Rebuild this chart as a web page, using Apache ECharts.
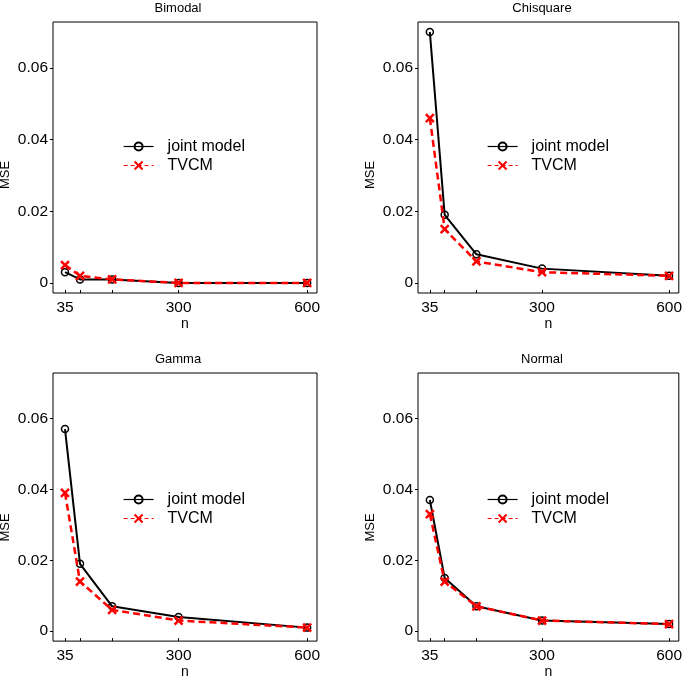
<!DOCTYPE html>
<html>
<head>
<meta charset="utf-8">
<script src="https://cdn.jsdelivr.net/npm/echarts@6/dist/echarts.min.js"></script>
<style>
html,body{margin:0;padding:0;background:#fff;}
#chart{width:685px;height:680px;}
</style>
</head>
<body>
<div id="chart"></div>
<script>
// ---- data ----
const nValues = [35, 70, 145, 300, 600];
const xTickLabels = [35, 300, 600];
const yTickValues = [0, 0.02, 0.04, 0.06];
const panelTitles = ['Bimodal', 'Chisquare', 'Gamma', 'Normal'];
const seriesNames = ['joint model', 'TVCM'];

const jointBimodal   = [0.003, 0.001, 0.001, 0.000, 0.000];
const tvcmBimodal    = [0.005, 0.002, 0.001, 0.000, 0.000];
const jointChisquare = [0.070, 0.019, 0.008, 0.004, 0.002];
const tvcmChisquare  = [0.046, 0.015, 0.006, 0.003, 0.002];
const jointGamma     = [0.057, 0.019, 0.007, 0.004, 0.001];
const tvcmGamma      = [0.039, 0.014, 0.006, 0.003, 0.001];
const jointNormal    = [0.037, 0.015, 0.007, 0.003, 0.002];
const tvcmNormal     = [0.033, 0.014, 0.007, 0.003, 0.002];

const jointData = [jointBimodal, jointChisquare, jointGamma, jointNormal];
const tvcmData  = [tvcmBimodal, tvcmChisquare, tvcmGamma, tvcmNormal];

// ---- layout ----
const FONT = "'Liberation Sans', Arial, Helvetica, sans-serif";
const gridLefts = [53, 418, 53, 418];
const gridTops = [22, 22, 373, 373];
const gridW = 264, gridH = 271;
const titleCenters = [178, 542, 178, 542];
const titleTops = [2, 2, 353, 353];
const legendLefts = [123, 487, 123, 487];
const legendTops = [138.5, 138.5, 491.5, 491.5];
const msePos = [[5.5, 175], [370, 175], [5.5, 527.5], [370, 527.5]];

const zip = (xs, ys) => xs.map((x, i) => [x, ys[i]]);

const grids = [], xAxes = [], yAxes = [], series = [], titles = [], legends = [], graphics = [];
for (let i = 0; i < 4; i++) {
  grids.push({
    left: gridLefts[i], top: gridTops[i], width: gridW, height: gridH,
    show: true, borderColor: '#000', borderWidth: 1, backgroundColor: 'transparent'
  });
  xAxes.push({
    type: 'value', gridIndex: i, min: 7, max: 623, position: 'bottom',
    name: 'n', nameLocation: 'middle', nameGap: 23,
    nameTextStyle: { fontSize: 14, color: '#000', fontFamily: FONT },
    axisLine: { show: false, onZero: false },
    splitLine: { show: false },
    axisTick: { show: true, inside: true, length: 3, customValues: nValues, lineStyle: { color: '#000' } },
    axisLabel: { customValues: xTickLabels, fontSize: 15.5, color: '#000', fontFamily: FONT, margin: 7 }
  });
  yAxes.push({
    type: 'value', gridIndex: i, min: -0.0028, max: 0.0728, position: 'left',
    axisLine: { show: false, onZero: false },
    splitLine: { show: false },
    axisTick: { show: true, inside: false, length: 3, customValues: yTickValues, lineStyle: { color: '#000' } },
    axisLabel: {
      customValues: yTickValues, fontSize: 15.5, color: '#000', fontFamily: FONT, margin: 5,
      formatter: v => (v === 0 ? '0' : v.toFixed(2))
    }
  });
  series.push({
    type: 'line', name: seriesNames[0], xAxisIndex: i, yAxisIndex: i,
    data: zip(nValues, jointData[i]),
    symbol: 'circle', symbolSize: 7,
    itemStyle: { color: 'rgba(255,255,255,0)', borderColor: '#000', borderWidth: 1.5 },
    lineStyle: { color: '#000', width: 2 },
    z: 2
  });
  series.push({
    type: 'line', name: seriesNames[1], xAxisIndex: i, yAxisIndex: i,
    data: zip(nValues, tvcmData[i]),
    symbol: 'path://M0,0L10,10M0,10L10,0', symbolSize: 8,
    itemStyle: { color: '#ff0000', borderColor: '#ff0000', borderWidth: 2.5 },
    lineStyle: { color: '#ff0000', width: 2.5, type: [7, 4] },
    z: 3
  });
  titles.push({
    text: panelTitles[i], left: titleCenters[i], top: titleTops[i], textAlign: 'center', padding: 0,
    textStyle: { fontSize: 13, fontWeight: 'normal', color: '#000', fontFamily: FONT }
  });
  legends.push({
    data: [
      { name: seriesNames[0] },
      { name: seriesNames[1], lineStyle: { type: [4, 3] } }
    ],
    orient: 'vertical', left: legendLefts[i], top: legendTops[i],
    padding: 0, itemGap: 3, itemWidth: 30, itemHeight: 10, selectedMode: false,
    lineStyle: { width: 1.2 },
    textStyle: { fontSize: 16, color: '#000', fontFamily: FONT, padding: [0, 0, 0, 9] }
  });
  graphics.push({
    type: 'text', x: msePos[i][0], y: msePos[i][1], rotation: Math.PI / 2,
    style: { text: 'MSE', fontSize: 13, fontFamily: FONT, fill: '#000', align: 'center', verticalAlign: 'middle',
             textAlign: 'center', textVerticalAlign: 'middle' }
  });
}

const chart = echarts.init(document.getElementById('chart'), null, { renderer: 'canvas' });
chart.setOption({
  animation: false,
  backgroundColor: '#fff',
  title: titles,
  legend: legends,
  grid: grids,
  xAxis: xAxes,
  yAxis: yAxes,
  series: series,
  graphic: graphics
});
</script>
</body>
</html>
